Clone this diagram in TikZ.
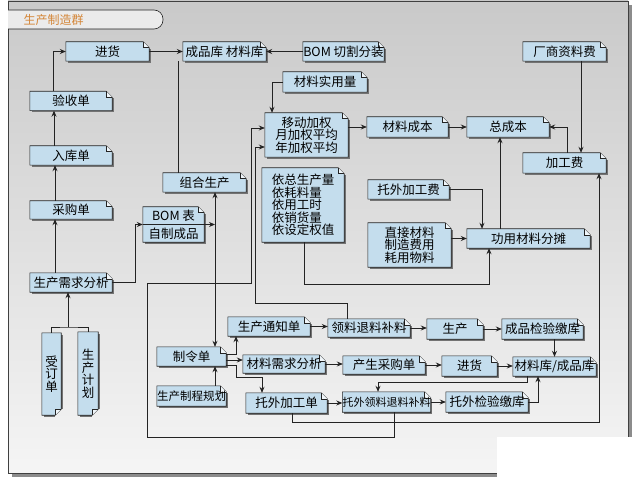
\documentclass[tikz,border=0pt]{standalone}
\usepackage{fontspec}
\newfontfamily\cjk{Noto Sans CJK SC}
\usetikzlibrary{arrows.meta,backgrounds}
\definecolor{noteblue}{RGB}{196,221,237}
\definecolor{lineink}{RGB}{35,35,35}
\definecolor{titleorange}{RGB}{212,134,56}
\begin{document}
\begin{tikzpicture}[x = 1pt, y = -1pt,
    >= {Stealth[length = 6pt, width = 5pt]},
    note/.style = {font = \cjk\fontsize{12.5}{12.5}\selectfont, inner sep = 0pt, minimum height = 19pt, align = center},
    link/.style = {draw = lineink, line width = 0.8pt},
    arr/.style = {link, ->}]
    \useasboundingbox (0, 0) rectangle (637, 497);
    \begin{scope}[on background layer]
        \fill[black!45] (12, 5) rectangle (632, 477);
        \shade[top color = black!21, bottom color = black!4] (8, 1) rectangle (628, 473);
        \draw[black!75, line width = 0.8pt] (8, 1) rectangle (628, 473);
        \fill[white] (497, 437) rectangle (637, 497);
        \filldraw[fill = black!8, draw = lineink, line width = 0.6pt, rounded corners = 9pt] (8, 10) -- (163, 10) -- (163, 29) -- (8, 29);
    \end{scope}
    \node[font = \cjk\fontsize{12}{12}\selectfont, text = titleorange, anchor = west] (title) at (20, 19.5) {生产制造群};

    \node[note, minimum width = 83pt] (jinhuoA) at (107.5, 51.5) {进货};
    \node[note, minimum width = 83pt] (kucun) at (224.5, 51.5) {成品库 材料库};
    \node[note, minimum width = 81pt] (bomqiege) at (343.5, 51.5) {BOM 切割分装};
    \node[note, minimum width = 83pt] (changshang) at (564.5, 51.5) {厂商资料费};
    \node[note, minimum width = 84pt, minimum height = 20pt] (shiyong) at (325, 82) {材料实用量};
    \node[note, minimum width = 82pt] (yanshou) at (71, 101) {验收单};
    \node[note, minimum width = 83pt, minimum height = 44pt] (jiaquan) at (306.5, 135) {移动加权\\月加权平均\\年加权平均};
    \node[note, minimum width = 81pt, minimum height = 20pt] (clchengben) at (407.5, 127) {材料成本};
    \node[note, minimum width = 82pt, minimum height = 20pt] (zongchengben) at (508, 127) {总成本};
    \node[note, minimum width = 82pt] (ruku) at (71, 155.5) {入库单};
    \node[note, minimum width = 83pt, minimum height = 20pt] (jiagongfei) at (564.5, 163) {加工费};
    \node[note, minimum width = 83pt] (zuhe) at (204.5, 182.5) {组合生产};
    \node[note, minimum width = 82pt, minimum height = 74pt, align = left] (yizong) at (303, 205) {依总生产量\\依耗料量\\依用工时\\依销货量\\依设定权值};
    \node[note, minimum width = 81pt] (tuowaifei) at (408.5, 189.5) {托外加工费};
    \node[note, minimum width = 82pt, minimum height = 18pt] (caigou) at (71, 210) {采购单};
    \node[note, minimum width = 61pt, minimum height = 35pt, font = \cjk\fontsize{12.5}{18}\selectfont] (bombiao) at (173.5, 224.5) {BOM 表\\自制成品};
    \node[note, minimum width = 83pt, minimum height = 44pt] (zhijie) at (409.5, 245) {直接材料\\制造费用\\耗用物料};
    \node[note, minimum width = 123pt] (fentan) at (528.5, 238.5) {功用材料分摊};
    \node[note, minimum width = 82pt] (xuqiu) at (71, 282.5) {生产需求分析};
    \node[note, minimum width = 82pt] (tongzhi) at (269, 326.5) {生产通知单};
    \node[note, minimum width = 82pt, minimum height = 18pt] (lingliao) at (369, 328) {领料退料补料};
    \node[note, minimum width = 56pt, minimum height = 20pt] (shengchan) at (455, 329) {生产};
    \node[note, minimum width = 81pt, minimum height = 20pt] (chengjian) at (542.5, 329) {成品检验缴库};
    \node[note, minimum width = 69pt] (zhiling) at (191.5, 356.5) {制令单};
    \node[note, minimum width = 82pt, minimum height = 18pt] (clxuqiu) at (284, 364) {材料需求分析};
    \node[note, minimum width = 82pt, minimum height = 18pt] (chansheng) at (384, 365) {产生采购单};
    \node[note, minimum width = 55pt, minimum height = 20pt] (jinhuoB) at (469.5, 366) {进货};
    \node[note, minimum width = 83pt] (kuB) at (554.5, 366.5) {材料库/成品库};
    \node[note, minimum width = 69pt, minimum height = 20pt, font = \cjk\fontsize{11.5}{11.5}\selectfont] (zhicheng) at (191.5, 396) {生产制程规划};
    \node[note, minimum width = 81pt, minimum height = 20pt] (tuowaidan) at (286.5, 403) {托外加工单};
    \node[note, minimum width = 81pt, minimum height = 20pt, font = \cjk\fontsize{11}{11}\selectfont] (twlingliao) at (386.5, 402) {托外领料退料补料};
    \node[note, minimum width = 82pt, minimum height = 20pt] (twjianyan) at (487, 402) {托外检验缴库};
    \node[note, minimum width = 19pt, minimum height = 82pt] (shouding) at (51.5, 374) {受\\订\\单};
    \node[note, minimum width = 20pt, minimum height = 83pt] (jihua) at (88, 373.5) {生\\产\\计\\划};
    \draw[link, line width = 0.6pt] (bombiao.west) -- (bombiao.east);

    \draw[arr] ([xshift = -18pt]yanshou.north) |- (jinhuoA.west);
    \draw[arr] (jinhuoA.east) -- (kucun.west);
    \draw[arr] (bomqiege.west) -- (kucun.east);
    \draw[link] ([xshift = -46.5pt]kucun.south) -- ([xshift = -46.5pt]kucun.south |- zuhe.north);
    \draw[arr] ([xshift = -17pt]ruku.north) -- ([xshift = -17pt]yanshou.south);
    \draw[arr] ([xshift = -16pt]caigou.north) -- ([xshift = -16pt]ruku.south);
    \draw[arr] ([xshift = -16pt]xuqiu.north) -- ([xshift = -16pt]caigou.south);
    \coordinate (fork) at (68, 327);
    \draw[link] (shouding.north) |- (fork) -| (jihua.north);
    \draw[arr] (fork) -- (fork |- xuqiu.south);
    \draw[arr] (xuqiu.east) -- ++(23, 0) |- (bombiao.west);
    \draw[arr] (shiyong.west) -| ([xshift = -34.5pt]jiaquan.north);
    \draw[arr] (jiaquan.east |- clchengben.west) -- (clchengben.west);
    \draw[arr] (clchengben.east) -- (zongchengben.west);
    \draw[arr] ([xshift = 16.5pt]changshang.south) -- ([xshift = 16.5pt]jiagongfei.north);
    \draw[arr] ([xshift = 2.5pt]jiagongfei.north) |- (zongchengben.east);
    \draw[arr] ([xshift = -28.5pt]fentan.north) -- ([xshift = -28.5pt]fentan.north |- zongchengben.south);
    \draw[arr] (tuowaifei.east) -| ([xshift = -46.5pt]fentan.north);
    \draw[arr] (zhijie.east |- fentan.west) -- (fentan.west);
    \draw[arr] ([xshift = 1pt]yizong.south) -- ++(0, 42) -| ([xshift = -39.5pt]fentan.south);
    \draw[link, <->] ([xshift = 10.5pt]zuhe.south) -- ([xshift = 10.5pt]zuhe.south |- zhiling.north);
    \draw[arr] (bombiao.east) -- ([xshift = 10.5pt]zuhe.south |- bombiao.east);
    \draw[arr] ([xshift = 23.5pt]zhicheng.north) -- ([xshift = 23.5pt]zhiling.south);
    \draw[arr] ([yshift = 2.5pt]zhiling.east) -| ([xshift = -33pt]tongzhi.south);
    \draw[arr] ([yshift = -3.5pt]zhiling.east) -- ([yshift = -3.5pt]zhiling.east -| clxuqiu.west);
    \draw[arr] ([yshift = -8.5pt]zhiling.east) -- ++(10, 0) -- ++(0, 12) -| ([xshift = -24.5pt]tuowaidan.north);
    \draw[arr] (tongzhi.east) -- (tongzhi.east -| lingliao.west);
    \draw[arr] (lingliao.east) -- (lingliao.east -| shengchan.west);
    \draw[arr] (shengchan.east) -- (chengjian.west);
    \draw[arr] (chengjian.south -| kuB.north) -- (kuB.north);
    \draw[arr] (clxuqiu.east) -- (clxuqiu.east -| chansheng.west);
    \draw[arr] (chansheng.east) -- (chansheng.east -| jinhuoB.west);
    \draw[arr] (jinhuoB.east) -- (jinhuoB.east -| kuB.west);
    \draw[arr] ([xshift = -27.5pt]kuB.south) -- ++(0, 6) -| ([xshift = -8.5pt]twlingliao.north);
    \draw[arr] (tuowaidan.east) -- (tuowaidan.east -| twlingliao.west);
    \draw[arr] (twlingliao.east) -- (twlingliao.east -| twjianyan.west);
    \draw[arr] (twjianyan.east) -| ([xshift = -16.5pt]kuB.south);
    \draw[arr] ([xshift = -22pt]lingliao.north) |- (255, 303) |- ([yshift = -12pt]jiaquan.west);
    \draw[arr] ([xshift = 7.5pt]twlingliao.south) |- (147, 437) |- (251, 283) |- ([yshift = 7pt]jiaquan.west);
    \draw[arr] ([xshift = 5.5pt]tuowaidan.south) -- ++(0, 9) -| ([xshift = 34.5pt]jiagongfei.south);

    \begin{scope}[on background layer]
        \foreach \n in {jinhuoA, kucun, bomqiege, changshang, shiyong, yanshou, jiaquan, clchengben, zongchengben, ruku, jiagongfei, zuhe, yizong, tuowaifei, caigou, bombiao, zhijie, fentan, xuqiu, tongzhi, lingliao, shengchan, chengjian, zhiling, clxuqiu, chansheng, jinhuoB, kuB, zhicheng, tuowaidan, twlingliao, twjianyan}{
            \draw[black!55, line width = 1.4pt] ([xshift = 2pt, yshift = -0.7pt]\n.south west) -- ([xshift = 0.7pt, yshift = -0.7pt]\n.south east) -- ([xshift = 0.7pt, yshift = -7pt]\n.north east);
            \filldraw[fill = noteblue, draw = lineink, line width = 0.6pt] (\n.south west) -- (\n.north west) -- ([xshift = -6pt]\n.north east) -- ([yshift = -6pt]\n.north east) -- (\n.south east) -- cycle;
            \filldraw[fill = white!75!noteblue, draw = lineink, line width = 0.6pt] ([xshift = -6pt]\n.north east) -- ([xshift = -6pt, yshift = -6pt]\n.north east) -- ([yshift = -6pt]\n.north east);
        }
        \foreach \n in {shouding, jihua}{
            \draw[black!55, line width = 1.4pt] ([xshift = 2pt, yshift = -0.7pt]\n.south west) -- ([xshift = -6pt, yshift = -0.7pt]\n.south east);
            \draw[black!55, line width = 1.4pt] ([xshift = 0.7pt, yshift = -2pt]\n.north east) -- ([xshift = 0.7pt, yshift = 6pt]\n.south east);
            \filldraw[fill = noteblue, draw = lineink, line width = 0.6pt] (\n.north west) -- (\n.north east) -- ([yshift = 6pt]\n.south east) -- ([xshift = -6pt]\n.south east) -- (\n.south west) -- cycle;
            \filldraw[fill = white!75!noteblue, draw = lineink, line width = 0.6pt] ([yshift = 6pt]\n.south east) -- ([xshift = -6pt, yshift = 6pt]\n.south east) -- ([xshift = -6pt]\n.south east);
        }
    \end{scope}
\end{tikzpicture}
\end{document}
